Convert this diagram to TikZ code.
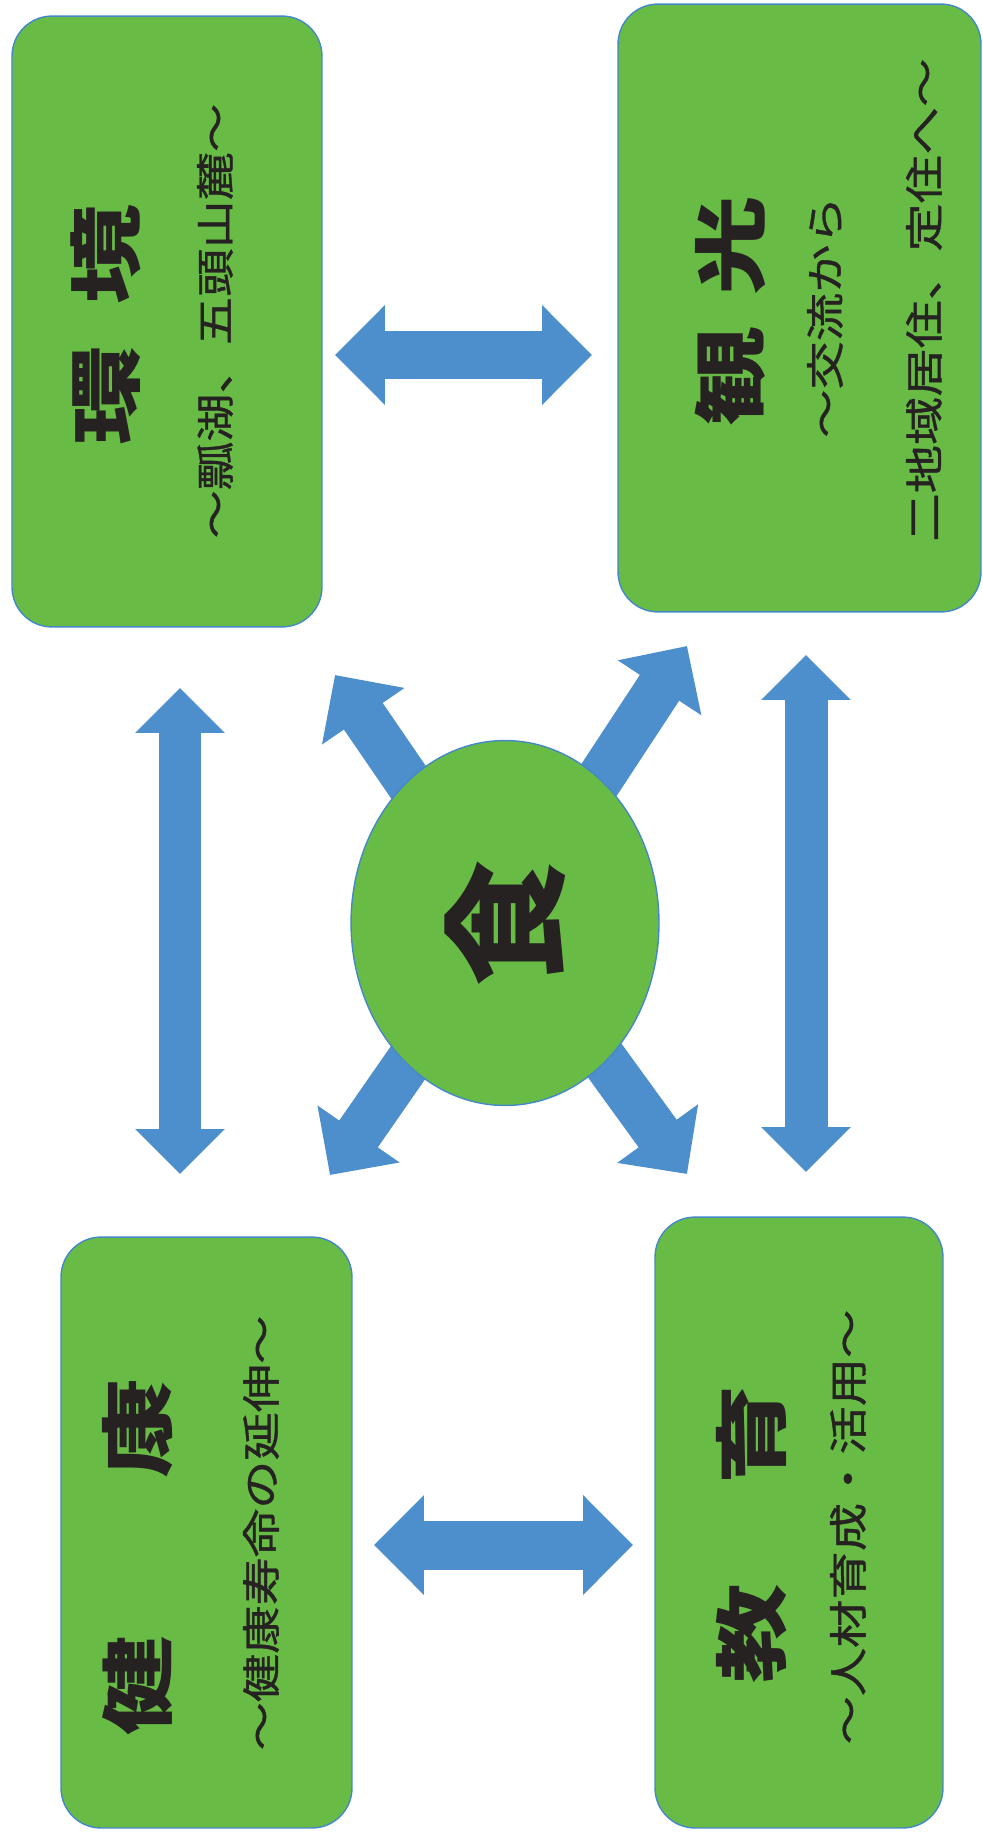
\documentclass[tikz,border=0pt]{standalone}
\usepackage{fontspec}
\newfontfamily\jpfont[FakeStretch=1.35]{Noto Sans CJK JP}
\newfontfamily\jpsub[FakeStretch=1.25,FakeBold=1]{Noto Sans CJK JP}
\newfontfamily\jpplain{Noto Sans CJK JP}
\usetikzlibrary{arrows.meta,shapes.geometric}
\definecolor{boxgreen}{RGB}{104,188,70}
\definecolor{edgeblue}{RGB}{68,136,200}
\definecolor{arrowblue}{RGB}{76,143,204}
\definecolor{inkdark}{RGB}{38,34,34}
\tikzset{
theme/.style={
draw=edgeblue,
line width=0.8pt,
fill=boxgreen,
rounded corners=0.8cm,
inner sep=0pt
},
heading/.style={
rotate=90,
text=inkdark,
inner sep=0pt,
font=\jpfont\bfseries\fontsize{42pt}{44pt}\selectfont
},
subline/.style={
rotate=90,
text=inkdark,
inner sep=0pt,
font=\jpsub\fontsize{22pt}{26pt}\selectfont
},
link/.style={
color=arrowblue,
line width=0.98cm,
{Triangle[width=1.94cm,length=1cm]}-{Triangle[width=1.94cm,length=1cm]}
},
uplink/.style={
color=arrowblue,
line width=0.86cm,
{Triangle[width=1.74cm,length=0.9cm]}-{Triangle[width=1.74cm,length=0.9cm]}
},
spoke/.style={
color=arrowblue,
line width=0.94cm,
-{Triangle[width=1.94cm,length=1cm]}
}
}

\begin{document}
\begin{tikzpicture}[x=0.02cm,y=-0.02cm]
\useasboundingbox (0,0) rectangle (983,1835);

% the four themes
\node[theme,minimum width=6.2cm,minimum height=12.22cm](env) at (167,321.5){};
\node[theme,minimum width=7.26cm,minimum height=12.16cm](tour) at (799.5,308){};
\node[theme,minimum width=5.82cm,minimum height=11.82cm](health) at (206.5,1532.5){};
\node[theme,minimum width=5.76cm,minimum height=12.22cm](edu) at (799,1522.5){};

\node[heading](envt) at (106,325){環\hspace{0.82cm}境};
\node[subline](envs) at (215,321){～瓢湖、五頭山麓～};

\node[heading](tourt) at (730,311){観\hspace{0.64cm}光};
\node[subline](toura) at (825,317){～交流から};
\node[subline](tourb) at (924,300){二地域居住、定住へ～};

\node[heading](healtht) at (138,1557){健\hspace{3.14cm}康};
\node[subline](healths) at (261,1533){～健康寿命の延伸～};

\node[heading](edut) at (752,1534){教\hspace{1.98cm}育};
\node[subline](edus) at (848,1527){～人材育成・活用～};

% arrows between the themes
\coordinate (ta) at (335,355);
\coordinate (tb) at (592,355);
\coordinate (ba) at (374,1545);
\coordinate (bb) at (633,1545);
\coordinate (la) at (180,688);
\coordinate (lb) at (180,1174);
\coordinate (ra) at (806,655);
\coordinate (rb) at (806,1172);
\foreach \x/\y in {ta/tb,ba/bb}
\draw[link](\x)--(\y);
\foreach \x/\y in {la/lb,ra/rb}
\draw[uplink](\x)--(\y);

% spokes out of the centre
\coordinate (fc) at (505,923);
\coordinate (s1) at (335,675);
\coordinate (s2) at (687,646);
\coordinate (s3) at (330,1175);
\coordinate (s4) at (687,1174);
\foreach \y in {s1,s2,s3,s4}
\draw[spoke](fc)--(\y);

\node[ellipse,draw=edgeblue,line width=0.8pt,fill=boxgreen,rotate=90,
minimum width=7.3cm,minimum height=6.16cm,inner sep=0pt,text=inkdark,
font=\jpplain\bfseries\fontsize{72pt}{74pt}\selectfont](food) at (fc){食};

\end{tikzpicture}
\end{document}
